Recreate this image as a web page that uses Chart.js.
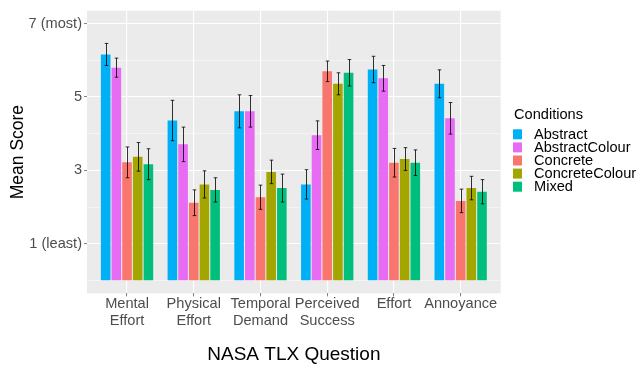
<!DOCTYPE html>
<html>
<head>
<meta charset="utf-8">
<title>NASA TLX by condition</title>
<script src="https://cdn.jsdelivr.net/npm/chart.js@4.4.1/dist/chart.umd.min.js"></script>
<style>
  html, body { margin: 0; padding: 0; background: #ffffff; }
  canvas { display: block; }
</style>
</head>
<body>
<canvas id="tlx-chart" width="640" height="367"></canvas>
<script>
// ------------------------------------------------------------
// Data
// ------------------------------------------------------------
const questions = [
  ['Mental', 'Effort'],
  ['Physical', 'Effort'],
  ['Temporal', 'Demand'],
  ['Perceived', 'Success'],
  'Effort',
  'Annoyance'
];

const conditions = ['Abstract', 'AbstractColour', 'Concrete', 'ConcreteColour', 'Mixed'];
const conditionColors = ['#00B0F6', '#E76BF3', '#F8766D', '#A3A500', '#00BF7D'];

// mean score per question, one array per condition
const abstractMean       = [6.16, 4.36, 4.61, 2.62, 5.75, 5.36];
const abstractColourMean = [5.80, 3.71, 4.61, 3.96, 5.51, 4.42];
const concreteMean       = [3.22, 2.12, 2.27, 5.70, 3.21, 2.17];
const concreteColourMean = [3.37, 2.62, 2.96, 5.36, 3.31, 2.52];
const mixedMean          = [3.17, 2.47, 2.52, 5.66, 3.21, 2.42];

// half-width of the error bars
const abstractErr       = [0.30, 0.55, 0.45, 0.40, 0.36, 0.38];
const abstractColourErr = [0.26, 0.47, 0.43, 0.39, 0.35, 0.43];
const concreteErr       = [0.42, 0.35, 0.33, 0.28, 0.39, 0.32];
const concreteColourErr = [0.39, 0.37, 0.32, 0.30, 0.31, 0.32];
const mixedErr          = [0.42, 0.33, 0.38, 0.36, 0.35, 0.33];

const yTickLabels = { 1: '1 (least)', 3: '3', 5: '5', 7: '7 (most)' };

const means = [abstractMean, abstractColourMean, concreteMean, concreteColourMean, mixedMean];
const errors = [abstractErr, abstractColourErr, concreteErr, concreteColourErr, mixedErr];

// ------------------------------------------------------------
// ggplot-ish defaults
// ------------------------------------------------------------
Chart.defaults.font.family = "'Liberation Sans', Arial, sans-serif";
Chart.defaults.font.size = 14.6;
Chart.defaults.color = '#4D4D4D';

const FONT = "'Liberation Sans', Arial, sans-serif";

// grey panel behind the plot
const panelBackground = {
  id: 'panelBackground',
  beforeDraw(chart) {
    const { ctx, chartArea: a } = chart;
    ctx.save();
    ctx.fillStyle = '#EBEBEB';
    ctx.fillRect(a.left, a.top, a.right - a.left, a.bottom - a.top);
    ctx.restore();
  }
};

// error bars on top of each bar
const errorBars = {
  id: 'errorBars',
  afterDatasetsDraw(chart) {
    const { ctx } = chart;
    const yScale = chart.scales.y;
    ctx.save();
    ctx.strokeStyle = 'rgba(0, 0, 0, 0.8)';
    ctx.lineWidth = 1;
    chart.data.datasets.forEach((ds, i) => {
      const meta = chart.getDatasetMeta(i);
      meta.data.forEach((bar, j) => {
        const m = means[i][j];
        const e = errors[i][j];
        const yHi = yScale.getPixelForValue(m + e);
        const yLo = yScale.getPixelForValue(m - e);
        const x = Math.round(bar.x) + 0.5;
        ctx.beginPath();
        ctx.moveTo(x, yHi);
        ctx.lineTo(x, yLo);
        ctx.moveTo(x - 1.8, yHi);
        ctx.lineTo(x + 1.8, yHi);
        ctx.moveTo(x - 1.8, yLo);
        ctx.lineTo(x + 1.8, yLo);
        ctx.stroke();
      });
    });
    ctx.restore();
  }
};

// legend drawn to the right of the panel
const sideLegend = {
  id: 'sideLegend',
  afterDraw(chart) {
    const { ctx } = chart;
    const x0 = 513;
    ctx.save();
    ctx.font = '14.6px ' + FONT;
    ctx.fillStyle = '#000000';
    ctx.textAlign = 'left';
    ctx.textBaseline = 'middle';
    ctx.fillText('Conditions', x0 + 1, 115);
    chart.data.datasets.forEach((ds, i) => {
      const cy = 134.3 + i * 13.1;
      ctx.fillStyle = ds.backgroundColor;
      ctx.fillRect(x0, cy - 5, 9, 10);
      ctx.fillStyle = '#000000';
      ctx.fillText(ds.label, x0 + 21, cy + 0.5);
    });
    ctx.restore();
  }
};

const datasets = conditions.map((name, i) => ({
  label: name,
  data: means[i].map((v, j) => ({ x: j, y: v })),
  backgroundColor: conditionColors[i],
  borderWidth: 0,
  categoryPercentage: 0.8,
  barPercentage: 0.9
}));

new Chart(document.getElementById('tlx-chart').getContext('2d'), {
  type: 'bar',
  data: { datasets: datasets },
  plugins: [panelBackground, errorBars, sideLegend],
  options: {
    responsive: false,
    animation: false,
    layout: {
      padding: { left: 0, top: 8, right: 139.3, bottom: 0 }
    },
    plugins: {
      legend: { display: false },
      tooltip: { enabled: false }
    },
    scales: {
      x: {
        type: 'linear',
        min: -0.6,
        max: 5.6,
        offset: false,
        afterBuildTicks: (scale) => {
          scale.ticks = questions.map((_, i) => ({ value: i }));
        },
        afterFit: (scale) => { scale.height = 73.6; },
        ticks: {
          padding: 0,
          color: '#4D4D4D',
          font: { size: 14.6, lineHeight: 1.1 },
          maxRotation: 0,
          autoSkip: false,
          callback: (value) => questions[value]
        },
        grid: {
          offset: false,
          color: '#FFFFFF',
          lineWidth: 1.1,
          tickLength: 3,
          tickColor: '#7F7F7F',
          tickWidth: 1
        },
        border: { display: false },
        title: {
          display: true,
          text: 'NASA TLX Question',
          color: '#000000',
          font: { size: 19, lineHeight: 1.2 },
          padding: { top: 0, bottom: 0.6 }
        }
      },
      y: {
        min: -0.35,
        max: 7.35,
        afterBuildTicks: (scale) => {
          scale.ticks = [0, 1, 2, 3, 4, 5, 6, 7].map(v => ({ value: v }));
        },
        afterFit: (scale) => { scale.width = 87; },
        ticks: {
          padding: 2,
          color: '#4D4D4D',
          font: { size: 14.6 },
          callback: (value) => yTickLabels[value] || ''
        },
        grid: {
          color: (ctx) => (ctx.tick && ctx.tick.value % 2 === 1) ? '#FFFFFF' : 'rgba(255, 255, 255, 0.75)',
          lineWidth: (ctx) => (ctx.tick && ctx.tick.value % 2 === 1) ? 1.1 : 0.6,
          tickLength: 3,
          tickColor: (ctx) => (ctx.tick && ctx.tick.value % 2 === 1) ? '#7F7F7F' : 'rgba(0, 0, 0, 0)',
          tickWidth: 1
        },
        border: { display: false },
        title: {
          display: true,
          text: 'Mean Score',
          color: '#000000',
          font: { size: 17.5, lineHeight: 1.2 },
          padding: { top: 7.5, bottom: 0 }
        }
      }
    }
  }
});
</script>
</body>
</html>
